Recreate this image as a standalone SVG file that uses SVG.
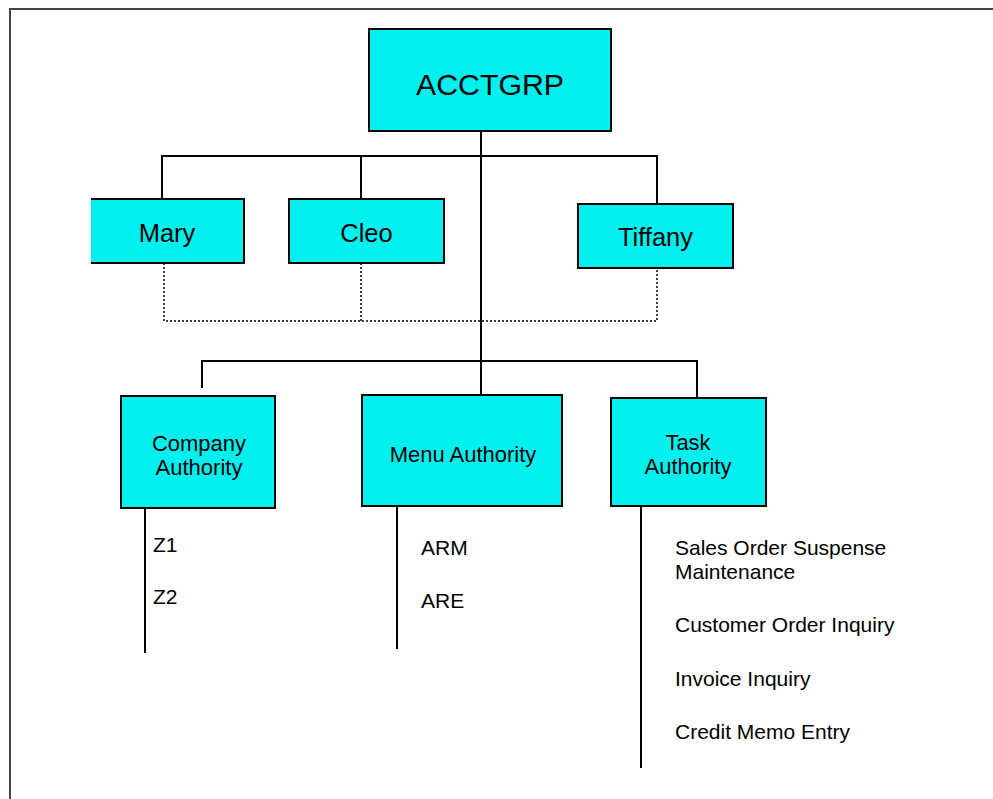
<svg xmlns="http://www.w3.org/2000/svg" width="993" height="799" viewBox="0 0 993 799">
  <style>
    .box { fill: #00F0F0; stroke: #000; stroke-width: 2; }
    .ln { stroke: #000; stroke-width: 2; fill: none; }
    .dot { stroke: #000; stroke-width: 1.5; fill: none; stroke-dasharray: 2 2; }
    .frame { stroke: #444; stroke-width: 2; fill: none; }
    text { font-family: "Liberation Sans", Arial, sans-serif; fill: #000; }
    .big { font-size: 30.3px; text-anchor: middle; }
    .name { font-size: 25.5px; text-anchor: middle; }
    .auth { font-size: 22px; text-anchor: middle; }
    .item { font-size: 21px; }
  </style>
  <rect width="993" height="799" fill="#fff"/>
  <!-- page frame -->
  <path class="frame" d="M10 799 V9 H993"/>

  <g id="connectors">
    <!-- root trunk -->
    <path class="ln" d="M481 131 V395"/>
    <!-- users bus -->
    <path class="ln" d="M162 199 V156 H657 V204"/>
    <path class="ln" d="M361 156 V199"/>
    <!-- dotted link between users -->
    <path class="dot" d="M164 263 V321 H657 V268"/>
    <path class="dot" d="M361 263 V321"/>
    <!-- authority bus -->
    <path class="ln" d="M202 388 V361 H697 V402"/>
    <!-- item stems -->
    <path class="ln" d="M145 508 V653"/>
    <path class="ln" d="M397 506 V649"/>
    <path class="ln" d="M641 506 V768"/>
  </g>

  <g id="acctgrp">
    <rect class="box" x="369" y="29" width="242" height="102"/>
    <text class="big" x="490" y="95">ACCTGRP</text>
  </g>
  <g id="mary">
    <path d="M91 199 H244 V263 H91 Z" fill="#00F0F0"/>
    <path class="ln" d="M91 199 H244 V263 H91"/>
    <text class="name" x="167" y="242">Mary</text>
  </g>
  <g id="cleo">
    <rect class="box" x="289" y="199" width="155" height="64"/>
    <text class="name" x="366.5" y="242">Cleo</text>
  </g>
  <g id="tiffany">
    <rect class="box" x="578" y="204" width="155" height="64"/>
    <text class="name" x="655.5" y="246">Tiffany</text>
  </g>
  <g id="company-authority">
    <rect class="box" x="121" y="396" width="154" height="112"/>
    <text class="auth" x="199" y="451">Company</text>
    <text class="auth" x="199" y="475">Authority</text>
  </g>
  <g id="menu-authority">
    <rect class="box" x="362" y="395" width="200" height="111"/>
    <text class="auth" x="463" y="462">Menu Authority</text>
  </g>
  <g id="task-authority">
    <rect class="box" x="611" y="398" width="155" height="108"/>
    <text class="auth" x="688" y="450">Task</text>
    <text class="auth" x="688" y="474">Authority</text>
  </g>

  <g id="company-items">
    <text class="item" x="153" y="552">Z1</text>
    <text class="item" x="153" y="604">Z2</text>
  </g>
  <g id="menu-items">
    <text class="item" x="421" y="555">ARM</text>
    <text class="item" x="421" y="608">ARE</text>
  </g>
  <g id="task-items">
    <text class="item" x="675" y="555">Sales Order Suspense</text>
    <text class="item" x="675" y="579">Maintenance</text>
    <text class="item" x="675" y="632">Customer Order Inquiry</text>
    <text class="item" x="675" y="686">Invoice Inquiry</text>
    <text class="item" x="675" y="739">Credit Memo Entry</text>
  </g>
</svg>
